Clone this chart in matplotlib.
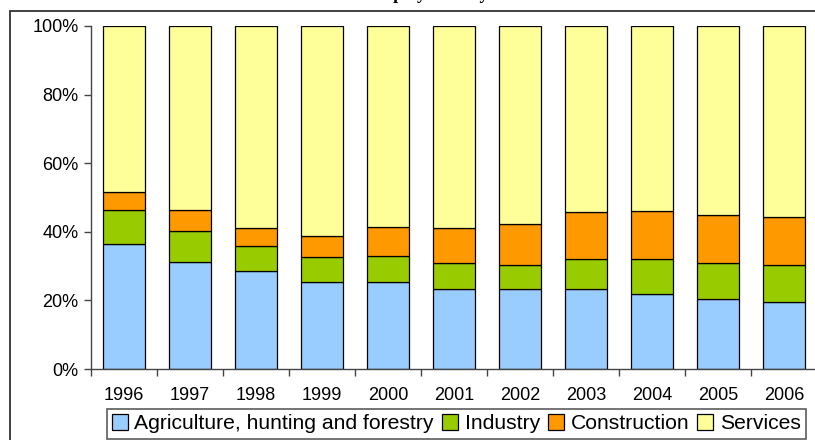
import numpy as np
import matplotlib.pyplot as plt
from matplotlib.patches import Rectangle

# employment structure by sector, % of total
years = ['1996', '1997', '1998', '1999', '2000', '2001', '2002', '2003', '2004', '2005', '2006']
agriculture = [36.4, 31.3, 28.6, 25.5, 25.3, 23.3, 23.2, 23.3, 22.0, 20.3, 19.4]
industry = [9.9, 8.9, 7.2, 7.2, 7.7, 7.5, 7.0, 8.9, 10.2, 10.6, 10.8]
construction = [5.2, 6.1, 5.2, 6.2, 8.3, 10.2, 12.1, 13.7, 13.9, 14.0, 14.1]
services = [48.5, 53.7, 59.0, 61.1, 58.7, 59.0, 57.7, 54.1, 53.9, 55.1, 55.7]

labels = ['Agriculture, hunting and forestry', 'Industry', 'Construction', 'Services']
colors = ['#99CCFF', '#99CC00', '#FF9900', '#FFFF99']

W, H = 815, 440
fig = plt.figure(figsize=(W / 100, H / 100), dpi=100)
plt.rcParams['font.family'] = ['Liberation Sans', 'DejaVu Sans']

# chart area frame
fig.patches.append(Rectangle((10 / W, -0.1), 1.2, (H - 11) / H + 0.1, transform=fig.transFigure,
                             fill=False, edgecolor='#333333', linewidth=1.3))

# title, sits above the top edge
fig.text(452 / W, (H + 0.5) / H, 'Employment by sector', ha='center', va='baseline',
         family=['Liberation Serif', 'DejaVu Serif'], fontsize=13, fontweight='bold')

ax = fig.add_axes([91 / W, (H - 369) / H, (817 - 91) / W, (369 - 26) / H])

x = np.arange(len(years))
series = [agriculture, industry, construction, services]
bottom = np.zeros(len(years))
for vals, lab, col in zip(series, labels, colors):
    ax.bar(x, vals, 0.64, bottom=bottom, color=col, edgecolor='black', linewidth=0.9, label=lab)
    bottom += np.array(vals)

ax.set_xlim(-0.5, len(years) - 0.5)
ax.set_ylim(0, 100)
ax.set_yticks([0, 20, 40, 60, 80, 100])
ax.set_yticklabels([f'{v}%' for v in [0, 20, 40, 60, 80, 100]])
ax.set_xticks(x)
ax.set_xticklabels(years)
ax.set_xticks(np.arange(len(years) + 1) - 0.5, minor=True)

for s in ['top', 'right']:
    ax.spines[s].set_visible(False)
for s in ['left', 'bottom']:
    ax.spines[s].set_color('#444444')
    ax.spines[s].set_linewidth(1.0)

ax.tick_params(axis='y', length=5, width=1, color='#444444', labelsize=13, pad=4)
ax.tick_params(axis='x', which='major', length=0, labelsize=13, pad=13)
ax.tick_params(axis='x', which='minor', length=5, width=1, color='#444444')

leg = fig.legend(loc='upper left', bbox_to_anchor=(107 / W, (H - 409) / H), ncol=4,
                 frameon=True, fancybox=False, fontsize=15.2, handlelength=0.75, handleheight=0.75,
                 handletextpad=0.3, columnspacing=0.4, borderpad=0.25, borderaxespad=0)
leg.get_frame().set_edgecolor('#333333')
leg.get_frame().set_linewidth(1.2)

fig.savefig('out.png', dpi=100)
